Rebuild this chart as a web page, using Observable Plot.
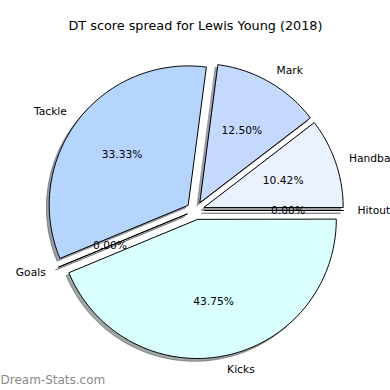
<!DOCTYPE html>
<html>
<head>
<meta charset="utf-8">
<script src="https://cdn.jsdelivr.net/npm/d3@7"></script>
<script src="https://cdn.jsdelivr.net/npm/@observablehq/plot@0.6"></script>
<style>
  html, body { margin: 0; padding: 0; background: white; }
</style>
</head>
<body>
<div id="chart"></div>
<script>
// ---- data ----
const title = "DT score spread for Lewis Young (2018)";
const watermark = "Dream-Stats.com";
const labels = ["Hitout", "Handball", "Mark", "Tackle", "Goals", "Kicks"];
const values = [0, 5, 6, 16, 0, 21];
const colors = ["#e0ecff", "#eaf1ff", "#c5d9ff", "#b5d5ff", "#cde0ff", "#d9ffff"];

// ---- layout constants ----
const W = 390, H = 390;
const CX = 195, CY = 210, R = 139;
const EXPLODE = 0.066;
const SHADOW = 0.02;
const LABEL_DIST = 1.1, PCT_DIST = 0.6;

const total = d3.sum(values);
let cum = 0;
const outline = [], shadows = [], labelPts = [], pctPts = [];
labels.forEach((name, i) => {
  const t1 = (cum / total) * 2 * Math.PI;
  cum += values[i];
  const t2 = (cum / total) * 2 * Math.PI;
  const mid = (t1 + t2) / 2;
  const ox = EXPLODE * Math.cos(mid), oy = EXPLODE * Math.sin(mid);
  const c = d3.rgb(colors[i]);
  const sh = d3.rgb(c.r * 0.3, c.g * 0.3, c.b * 0.3).formatHex();
  const pts = [{x: ox, y: oy}];
  const n = Math.max(1, Math.ceil((t2 - t1) / (Math.PI / 180)));
  for (let k = 0; k <= n; k++) {
    const t = t1 + (t2 - t1) * k / n;
    pts.push({x: ox + Math.cos(t), y: oy + Math.sin(t)});
  }
  pts.forEach(p => {
    outline.push({slice: name, x: p.x, y: p.y, fill: colors[i]});
    shadows.push({slice: name, x: p.x - SHADOW, y: p.y - SHADOW, fill: sh});
  });
  labelPts.push({text: name, x: ox + LABEL_DIST * Math.cos(mid), y: oy + LABEL_DIST * Math.sin(mid), left: Math.cos(mid) > 0});
  pctPts.push({text: (values[i] / total * 100).toFixed(2) + "%", x: ox + PCT_DIST * Math.cos(mid), y: oy + PCT_DIST * Math.sin(mid)});
});

const chart = Plot.plot({
  width: W,
  height: H,
  margin: 0,
  x: {domain: [-CX / R, (W - CX) / R], axis: null},
  y: {domain: [-(H - CY) / R, CY / R], axis: null},
  color: {type: "identity"},
  style: {fontFamily: "DejaVu Sans", background: "white"},
  marks: [
    Plot.line(shadows, {x: "x", y: "y", z: "slice", fill: "fill", stroke: "fill", fillOpacity: 0.5, strokeOpacity: 0.5, strokeWidth: 1, curve: "linear-closed"}),
    Plot.line(outline, {x: "x", y: "y", z: "slice", fill: "fill", stroke: "black", strokeWidth: 1, curve: "linear-closed"}),
    Plot.text(labelPts.filter(d => d.left), {x: "x", y: "y", text: "text", textAnchor: "start", lineAnchor: "middle", fontSize: 10.7, fill: "black"}),
    Plot.text(labelPts.filter(d => !d.left), {x: "x", y: "y", text: "text", textAnchor: "end", lineAnchor: "middle", fontSize: 10.7, fill: "black"}),
    Plot.text(pctPts, {x: "x", y: "y", text: "text", textAnchor: "middle", lineAnchor: "middle", fontSize: 10.7, fill: "black"}),
    Plot.text([title], {frameAnchor: "top", dy: 25, lineAnchor: "middle", fontSize: 12.8, fill: "black"}),
    Plot.text([watermark], {frameAnchor: "bottom-left", dy: -10, textAnchor: "start", lineAnchor: "middle", fontSize: 12, fill: "#8a8a8a"})
  ]
});
document.getElementById("chart").appendChild(chart);
</script>
</body>
</html>
